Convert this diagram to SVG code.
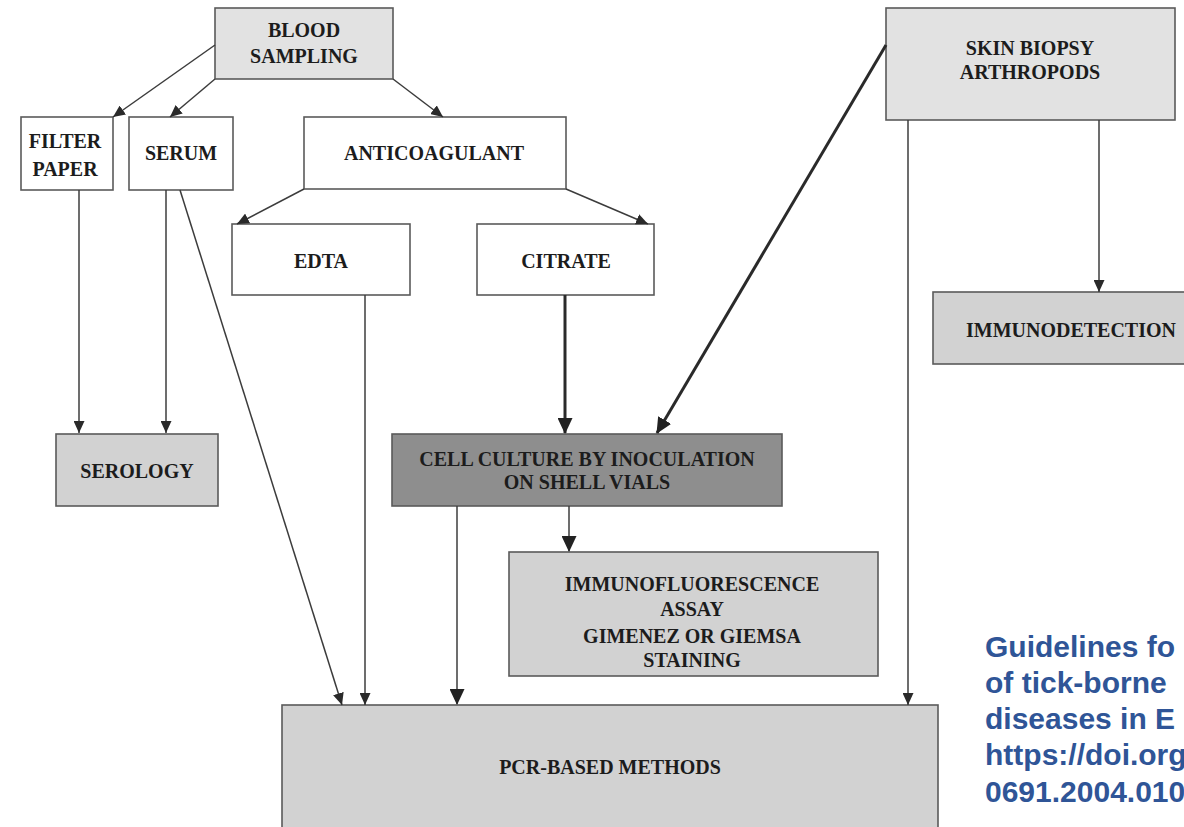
<svg xmlns="http://www.w3.org/2000/svg" width="1184" height="827" viewBox="0 0 1184 827">
<style>
.box{stroke:#5a5a5a;stroke-width:1.6}
.w{fill:#ffffff}
.l1{fill:#e2e2e2}
.l2{fill:#d2d2d2}
.dk{fill:#8e8e8e}
.t{font-family:"Liberation Serif","Times New Roman",serif;font-weight:bold;font-size:20px;fill:#1c1c1c;text-anchor:middle}
.c{fill:none;stroke:#3c3c3c;stroke-width:1.5}
.ck{fill:none;stroke:#2a2a2a;stroke-width:3}
.cite{font-family:"Liberation Sans",Arial,sans-serif;font-weight:bold;font-size:30px;fill:#2f5597}
</style>
<defs>
<marker id="a" markerUnits="userSpaceOnUse" markerWidth="12" markerHeight="11" refX="12" refY="5.5" orient="auto"><path d="M0,0 L12,5.5 L0,11 z" fill="#2a2a2a"/></marker>
<marker id="ab" markerUnits="userSpaceOnUse" markerWidth="16" markerHeight="15" refX="15" refY="7.5" orient="auto"><path d="M0,0 L16,7.5 L0,15 z" fill="#222"/></marker>
</defs>
<rect width="1184" height="827" fill="#ffffff"/>

<g id="blood">
<rect class="box l1" x="215" y="8" width="178" height="71"/>
<text class="t" x="304" y="37">BLOOD</text>
<text class="t" x="304" y="63">SAMPLING</text>
</g>
<g id="filter">
<rect class="box w" x="21" y="117" width="92" height="73"/>
<text class="t" x="65" y="148">FILTER</text>
<text class="t" x="65" y="176">PAPER</text>
</g>
<g id="serum">
<rect class="box w" x="129" y="117" width="104" height="73"/>
<text class="t" x="181" y="160">SERUM</text>
</g>
<g id="anticoagulant">
<rect class="box w" x="304" y="117" width="262" height="72"/>
<text class="t" x="434" y="160">ANTICOAGULANT</text>
</g>
<g id="edta">
<rect class="box w" x="232" y="224" width="178" height="71"/>
<text class="t" x="321" y="268">EDTA</text>
</g>
<g id="citrate">
<rect class="box w" x="477" y="224" width="177" height="71"/>
<text class="t" x="566" y="268">CITRATE</text>
</g>
<g id="skin">
<rect class="box l1" x="886" y="8" width="289" height="112"/>
<text class="t" x="1030" y="55">SKIN BIOPSY</text>
<text class="t" x="1030" y="79">ARTHROPODS</text>
</g>
<g id="immunodetection">
<rect class="box l2" x="933" y="292" width="260" height="72"/>
<text class="t" x="1071" y="337">IMMUNODETECTION</text>
</g>
<g id="serology">
<rect class="box l2" x="56" y="434" width="162" height="72"/>
<text class="t" x="137" y="478">SEROLOGY</text>
</g>
<g id="cellculture">
<rect class="box dk" x="392" y="434" width="390" height="72"/>
<text class="t" x="587" y="466">CELL CULTURE BY INOCULATION</text>
<text class="t" x="587" y="489">ON SHELL VIALS</text>
</g>
<g id="immunofluorescence">
<rect class="box l2" x="509" y="552" width="369" height="124"/>
<text class="t" x="692" y="591">IMMUNOFLUORESCENCE</text>
<text class="t" x="692" y="616">ASSAY</text>
<text class="t" x="692" y="643">GIMENEZ OR GIEMSA</text>
<text class="t" x="692" y="667">STAINING</text>
</g>
<g id="pcr">
<rect class="box l2" x="282" y="705" width="656" height="130"/>
<text class="t" x="610" y="774">PCR-BASED METHODS</text>
</g>

<g id="connectors">
<line class="c" x1="215" y1="45" x2="113" y2="117" marker-end="url(#a)"/>
<line class="c" x1="215" y1="79" x2="170" y2="117" marker-end="url(#a)"/>
<line class="c" x1="393" y1="79" x2="443" y2="117" marker-end="url(#a)"/>
<line class="c" x1="304" y1="189" x2="237" y2="224" marker-end="url(#a)"/>
<line class="c" x1="566" y1="189" x2="648" y2="224" marker-end="url(#a)"/>
<line class="c" x1="79" y1="190" x2="79" y2="433" marker-end="url(#a)"/>
<line class="c" x1="166" y1="190" x2="166" y2="433" marker-end="url(#a)"/>
<line class="c" x1="180" y1="190" x2="342" y2="705" marker-end="url(#a)"/>
<line class="c" x1="365" y1="295" x2="365" y2="705" marker-end="url(#a)"/>
<line class="ck" x1="565" y1="295" x2="565" y2="433" marker-end="url(#ab)"/>
<line class="ck" x1="886" y1="45" x2="657" y2="433" marker-end="url(#ab)"/>
<line class="c" x1="1099" y1="120" x2="1099" y2="292" marker-end="url(#a)"/>
<line class="c" x1="908" y1="120" x2="908" y2="705" marker-end="url(#a)"/>
<line class="c" x1="569" y1="506" x2="569" y2="551" marker-end="url(#ab)"/>
<line class="c" x1="457" y1="506" x2="457" y2="704" marker-end="url(#ab)"/>
</g>

<g id="citation">
<text class="cite" x="985" y="657">Guidelines fo</text>
<text class="cite" x="985" y="693">of tick-borne</text>
<text class="cite" x="985" y="729">diseases in E</text>
<text class="cite" x="985" y="765">https://doi.org</text>
<text class="cite" x="985" y="802">0691.2004.010</text>
</g>
</svg>
